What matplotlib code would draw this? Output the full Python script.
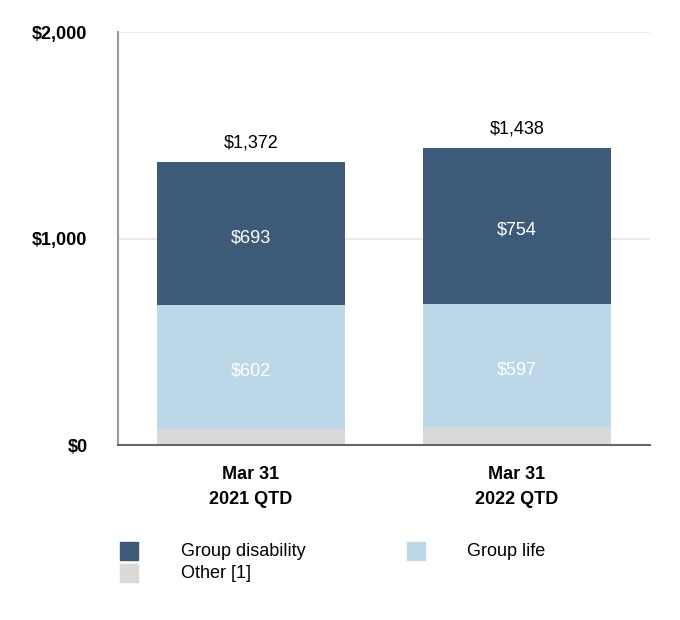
import numpy as np
import matplotlib.pyplot as plt
from matplotlib.patches import Rectangle

plt.rcParams['font.family'] = ['Liberation Sans', 'DejaVu Sans']

categories = ['Mar 31\n2021 QTD', 'Mar 31\n2022 QTD']
other = np.array([77, 87])
group_life = np.array([602, 597])
group_disability = np.array([693, 754])
totals = other + group_life + group_disability

c_dis = '#3d5a78'
c_life = '#bcd7e8'
c_other = '#d9d9d9'

fig = plt.figure(figsize=(6.8, 6.2), dpi=100)
ax = fig.add_axes([0.1735, 0.282, 0.782, 0.666])

x = np.arange(len(categories))
w = 0.705
ax.bar(x, other, w, color=c_other, zorder=2)
ax.bar(x, group_life, w, bottom=other, color=c_life, zorder=2)
ax.bar(x, group_disability, w, bottom=other + group_life, color=c_dis, zorder=2)

for i in range(len(x)):
    ax.text(x[i], other[i] + group_life[i] / 2 - 20, f'${group_life[i]:,}', color='white',
            ha='center', va='center', fontsize=13)
    ax.text(x[i], other[i] + group_life[i] + group_disability[i] / 2 - 20, f'${group_disability[i]:,}',
            color='white', ha='center', va='center', fontsize=13)
    ax.text(x[i], totals[i] + 52, f'${totals[i]:,}', ha='center', va='bottom', fontsize=13)

ax.set_xlim(-0.5, 1.5)
ax.set_ylim(0, 2000)
ax.set_yticks([0, 1000, 2000])
ax.set_yticklabels(['$0', '$1,000', '$2,000'], fontweight='bold', fontsize=13)
ax.set_xticks(x)
ax.set_xticklabels(categories, fontweight='bold', fontsize=13, linespacing=1.6)
ax.tick_params(length=0)
ax.tick_params(axis='y', pad=22)
ax.tick_params(axis='x', pad=15)
ax.grid(axis='y', color='#e6e6e6', linewidth=1.2, zorder=0)
for s in ['top', 'right']:
    ax.spines[s].set_visible(False)
ax.spines['left'].set_color('#999999')
ax.spines['left'].set_linewidth(1.5)
ax.spines['bottom'].set_color('#666666')
ax.spines['bottom'].set_linewidth(1.5)

# legend
entries = [(c_dis, 'Group disability', 120, 551, 181),
           (c_life, 'Group life', 407, 551, 467),
           (c_other, 'Other [1]', 120, 573, 181)]
for col, lab, px, py, tx in entries:
    fig.add_artist(Rectangle((px / 680, 1 - (py + 9) / 620), 18 / 680, 18 / 620,
                             transform=fig.transFigure, color=col))
    fig.text(tx / 680, 1 - py / 620, lab, ha='left', va='center', fontsize=13)

fig.savefig('out.png', dpi=100)
